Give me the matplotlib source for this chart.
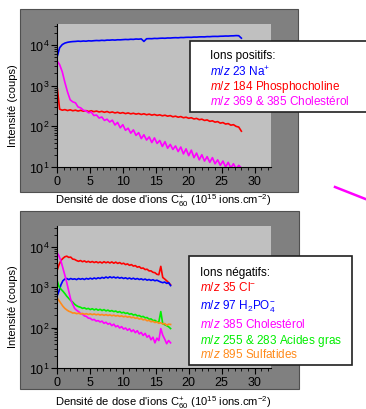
"""
Intensité des ions secondaires en fonction de la dose d'ions C60+
(ions positifs en haut, ions négatifs en bas).
"""

import numpy as np
import matplotlib
matplotlib.use("Agg")
import matplotlib.pyplot as plt
from matplotlib.patches import Rectangle
from matplotlib.lines import Line2D
from matplotlib.ticker import LogLocator, MultipleLocator

plt.rcParams['font.family'] = ['Liberation Sans', 'DejaVu Sans']
plt.rcParams['mathtext.fontset'] = 'custom'
plt.rcParams['mathtext.rm'] = 'Liberation Sans'
plt.rcParams['mathtext.it'] = 'Liberation Sans:italic'
plt.rcParams['mathtext.default'] = 'regular'

# --- Données : ions positifs (dose 0 -> 28, pas 0.4) ---
dose_pos = np.linspace(0, 28, 71)
na_23 = [5000, 8600, 10300, 11200, 11700, 12000, 12200, 12300, 12500, 12350,
         12600, 12450, 12750, 12600, 12800, 12950, 12850, 13100, 12950, 13250,
         13200, 13400, 13250, 13500, 13450, 13600, 13750, 13650, 13900, 13800,
         14100, 13950, 14200, 12300, 14300, 14400, 14350, 14600, 14500, 14700,
         14800, 14700, 14950, 14900, 15100, 15200, 15100, 15350, 15300, 15500,
         15550, 15500, 15750, 15700, 15900, 15950, 15900, 16150, 16100, 16300,
         16350, 16300, 16500, 16550, 16700, 16650, 16850, 16900, 17100, 17000,
         14800]
phosphocholine_184 = [1000, 265, 250, 258, 245, 255, 242, 250, 238, 248,
                      236, 244, 232, 242, 230, 238, 226, 234, 222, 232,
                      218, 226, 214, 222, 210, 218, 206, 214, 203, 210,
                      200, 207, 196, 204, 193, 200, 189, 196, 186, 192,
                      182, 188, 178, 184, 172, 178, 168, 174, 163, 168,
                      158, 163, 152, 157, 146, 150, 140, 144, 133, 137,
                      127, 131, 120, 124, 114, 117, 107, 110, 100, 96,
                      76]
cholesterol_pos = [4100, 3300, 2200, 1200, 700, 450, 400, 380, 300, 285,
                   250, 240, 215, 225, 185, 190, 160, 170, 140, 150,
                   128, 142, 108, 125, 92, 110, 80, 90, 68, 82,
                   60, 70, 50, 62, 46, 55, 40, 52, 38, 45,
                   32, 42, 29, 36, 27, 33, 24, 31, 21, 28,
                   19, 26, 17, 22, 15, 20, 14, 18, 13, 17,
                   12, 15, 11, 14, 10, 13, 9.5, 12, 9, 11,
                   9.5]

# --- Données : ions négatifs (dose 0 -> 17.25) ---
dose_neg = np.linspace(0, 17.25, 59)
cl_35 = [2600, 3600, 4600, 5200, 5700, 5900, 5500, 5600, 5000, 4900,
         4600, 4400, 4600, 4300, 4500, 4200, 4400, 4150, 4350, 4100,
         4300, 4050, 4250, 4000, 4300, 4050, 4250, 4000, 4250, 3950,
         4200, 3900, 4100, 3800, 3950, 3650, 3800, 3500, 3650, 3350,
         3450, 3150, 3250, 2950, 3000, 2750, 2800, 2550, 2550, 2350,
         2300, 2100, 2050, 3300, 1750, 1600, 1450, 1300, 1150]
h2po4_97 = [600, 800, 1150, 1450, 1600, 1650, 1550, 1650, 1580, 1620,
            1550, 1650, 1580, 1640, 1560, 1660, 1590, 1680, 1600, 1700,
            1620, 1720, 1650, 1760, 1680, 1800, 1700, 1820, 1720, 1800,
            1700, 1780, 1680, 1750, 1650, 1720, 1620, 1700, 1600, 1680,
            1580, 1650, 1560, 1620, 1530, 1600, 1500, 1560, 1480, 1540,
            1450, 1500, 1420, 1350, 1300, 1350, 1250, 1300, 1100]
cholesterol_neg = [7300, 6000, 4500, 3000, 2000, 1300, 800, 500, 380, 300,
                   270, 250, 225, 215, 195, 190, 172, 170, 155, 160,
                   145, 150, 138, 145, 128, 136, 122, 128, 112, 122,
                   105, 112, 98, 106, 92, 98, 86, 94, 80, 88,
                   75, 84, 70, 76, 64, 72, 58, 64, 50, 58,
                   42, 55, 48, 95, 65, 52, 40, 48, 42]
acides_gras = [1500, 1050, 900, 800, 700, 600, 530, 470, 430, 380,
               350, 330, 320, 300, 310, 290, 300, 280, 295, 275,
               290, 270, 285, 265, 280, 260, 272, 255, 265, 250,
               258, 240, 250, 232, 240, 225, 232, 215, 222, 205,
               212, 196, 200, 185, 190, 175, 178, 162, 165, 150,
               152, 140, 138, 250, 125, 118, 112, 105, 95]
sulfatides_895 = [550, 470, 400, 340, 300, 275, 255, 245, 230, 232,
                  222, 228, 218, 225, 215, 222, 212, 220, 210, 218,
                  208, 215, 205, 212, 202, 210, 200, 207, 197, 204,
                  194, 200, 190, 196, 186, 192, 182, 188, 176, 182,
                  170, 175, 163, 168, 156, 160, 148, 152, 140, 144,
                  134, 138, 128, 132, 123, 127, 115, 122, 120]

legende_pos = [("Ions positifs:", 'black'),
               (r"$\it{m/z}$ 23 Na$^{+}$", 'blue'),
               (r"$\it{m/z}$ 184 Phosphocholine", 'red'),
               (r"$\it{m/z}$ 369 & 385 Cholestérol", 'magenta')]
legende_neg = [("Ions négatifs:", 'black'),
               (r"$\it{m/z}$ 35 Cl$^{-}$", 'red'),
               (r"$\it{m/z}$ 97 H$_{2}$PO$_{4}^{-}$", 'blue'),
               (r"$\it{m/z}$ 385 Cholestérol", 'magenta'),
               (r"$\it{m/z}$ 255 & 283 Acides gras", '#00ee00'),
               (r"$\it{m/z}$ 895 Sulfatides", '#ff8a1a')]

W, H = 366, 410


def fx(x):
    return x / W


def fy(y):
    return 1 - y / H


def style_axes(ax):
    ax.set_facecolor('#c0c0c0')
    ax.set_yscale('log')
    ax.set_xlim(0, 32.5)
    ax.set_ylim(10, 3.3e4)
    ax.spines['top'].set_visible(False)
    ax.spines['right'].set_visible(False)
    ax.xaxis.set_major_locator(MultipleLocator(5))
    ax.xaxis.set_minor_locator(MultipleLocator(1))
    ax.yaxis.set_major_locator(LogLocator(base=10, numticks=10))
    ax.yaxis.set_minor_locator(LogLocator(base=10, subs=np.arange(2, 10), numticks=10))
    ax.tick_params(which='major', direction='out', length=4, width=0.8, labelsize=9, pad=1.5)
    ax.tick_params(which='minor', direction='out', length=2, width=0.6)


fig = plt.figure(figsize=(W / 100, H / 100), dpi=100)

# panneaux gris foncé
fig.patches.append(Rectangle((fx(20), fy(193)), fx(278), 183 / H, transform=fig.transFigure,
                             facecolor='#808080', edgecolor='#505050', lw=0.8, zorder=-1))
fig.patches.append(Rectangle((fx(20), fy(390)), fx(279), 178 / H, transform=fig.transFigure,
                             facecolor='#808080', edgecolor='#505050', lw=0.8, zorder=-1))

# --- Ions positifs ---
ax1 = fig.add_axes([fx(57), fy(168), fx(214), 143 / H])
style_axes(ax1)
ax1.plot(dose_pos, na_23, color='blue', lw=1.2)
ax1.plot(dose_pos, phosphocholine_184, color='red', lw=1.2)
ax1.plot(dose_pos, cholesterol_pos, color='magenta', lw=1.2)

# --- Ions négatifs ---
ax2 = fig.add_axes([fx(57), fy(369), fx(214), 142 / H])
style_axes(ax2)
ax2.plot(dose_neg, cl_35, color='red', lw=1.2)
ax2.plot(dose_neg, h2po4_97, color='blue', lw=1.2)
ax2.plot(dose_neg, acides_gras, color='#00ee00', lw=1.2)
ax2.plot(dose_neg, cholesterol_neg, color='magenta', lw=1.2)
ax2.plot(dose_neg, sulfatides_895, color='#ff8a1a', lw=1.2)

# titres des axes
xlabel = r"Densité de dose d'ions C$_{60}^{+}$ (10$^{15}$ ions.cm$^{-2}$)"
fig.text(fx(163), fy(201), xlabel, ha='center', va='center', fontsize=8)
fig.text(fx(163), fy(403), xlabel, ha='center', va='center', fontsize=8)
fig.text(fx(13), fy(106), "Intensité (coups)", rotation=90, ha='center', va='center', fontsize=8)
fig.text(fx(13), fy(307), "Intensité (coups)", rotation=90, ha='center', va='center', fontsize=8)

# légendes (cadres blancs)
fig.patches.append(Rectangle((fx(190), fy(113)), fx(185), 71 / H, transform=fig.transFigure,
                             facecolor='white', edgecolor='#202020', lw=1.2, zorder=5))
fig.patches.append(Rectangle((fx(189), fy(366)), fx(163), 109 / H, transform=fig.transFigure,
                             facecolor='white', edgecolor='#202020', lw=1.2, zorder=5))

# positions des lignes de base du texte (pixels)
for (txt, col), y in zip(legende_pos, [59, 76, 90, 105]):
    fig.text(fx(210), fy(y), txt, color=col, fontsize=8.5, va='baseline', zorder=6)
for (txt, col), y in zip(legende_neg, [276, 291, 310, 328, 344, 358]):
    fig.text(fx(200), fy(y), txt, color=col, fontsize=8.5, va='baseline', zorder=6)

# flèche (partielle) à droite
fig.lines.append(Line2D([fx(335), fx(368)], [fy(188), fy(201)], transform=fig.transFigure,
                        color='magenta', lw=1.8))

fig.savefig('out.png', dpi=100)
plt.close(fig)
